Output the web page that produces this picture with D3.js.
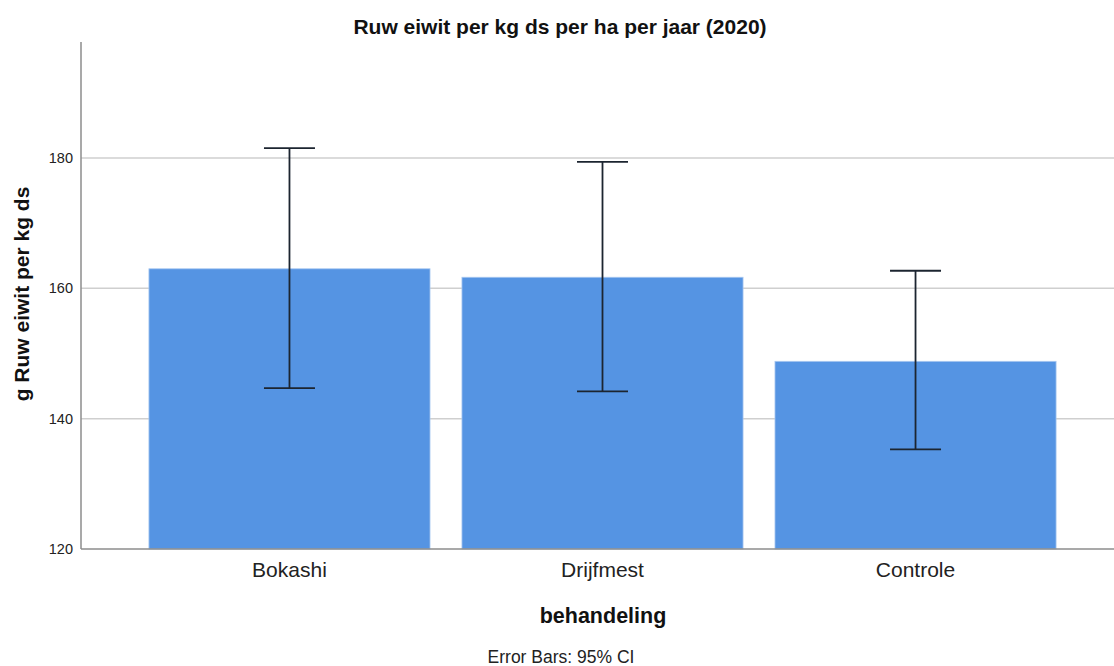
<!DOCTYPE html>
<html>
<head>
<meta charset="utf-8">
<script src="https://cdn.jsdelivr.net/npm/d3@7"></script>
<style>
  html, body { margin: 0; padding: 0; background: #fff; }
  svg { display: block; font-family: "Liberation Sans", Arial, sans-serif; }
</style>
</head>
<body>
<svg id="chart" width="1114" height="666"></svg>
<script>
// Mean crude protein (g per kg dry matter) per treatment, with 95% CI bounds
const categories = ["Bokashi", "Drijfmest", "Controle"];
const means      = [163.0, 161.7, 148.8];
const ciLower    = [144.7, 144.2, 135.3];
const ciUpper    = [181.5, 179.4, 162.7];
const yTicks     = [120, 140, 160, 180];

const svg = d3.select("#chart");

const plotLeft = 81, plotBottom = 549, plotTop = 42;

const y = d3.scaleLinear().domain([120, 197.8]).range([plotBottom, plotTop]);
const x = d3.scaleBand()
  .domain(categories)
  .range([plotLeft, 1124])
  .paddingInner(0.102)
  .paddingOuter(0.217);

// gridlines
svg.append("g")
  .selectAll("line")
  .data(yTicks.filter(t => t > 120))
  .join("line")
  .attr("x1", plotLeft).attr("x2", 1114)
  .attr("y1", d => y(d)).attr("y2", d => y(d))
  .attr("stroke", "#cfcfcf").attr("stroke-width", 1.5);

// bars
const data = categories.map((c, i) => ({ c, m: means[i], lo: ciLower[i], hi: ciUpper[i] }));
svg.append("g")
  .selectAll("rect")
  .data(data)
  .join("rect")
  .attr("x", d => x(d.c))
  .attr("width", x.bandwidth())
  .attr("y", d => y(d.m))
  .attr("height", d => y(120) - y(d.m))
  .attr("fill", "#5594e3")
  .attr("stroke", "#a9c8f0")
  .attr("stroke-width", 0.8);

// error bars
const cap = 25.5;
const eb = svg.append("g").attr("stroke", "#1c2530").attr("stroke-width", 1.8).attr("fill", "none");
data.forEach(d => {
  const cx = x(d.c) + x.bandwidth() / 2;
  eb.append("line").attr("x1", cx).attr("x2", cx).attr("y1", y(d.hi)).attr("y2", y(d.lo));
  eb.append("line").attr("x1", cx - cap).attr("x2", cx + cap).attr("y1", y(d.hi)).attr("y2", y(d.hi));
  eb.append("line").attr("x1", cx - cap).attr("x2", cx + cap).attr("y1", y(d.lo)).attr("y2", y(d.lo));
});

// axis lines
svg.append("line")
  .attr("x1", plotLeft).attr("x2", plotLeft).attr("y1", plotTop).attr("y2", plotBottom)
  .attr("stroke", "#8c8c8c").attr("stroke-width", 1.5);
svg.append("line")
  .attr("x1", plotLeft).attr("x2", 1114).attr("y1", plotBottom).attr("y2", plotBottom)
  .attr("stroke", "#8c8c8c").attr("stroke-width", 1.5);

// y tick labels
const yAxis = d3.axisLeft(y).tickValues(yTicks).tickSize(0).tickPadding(8);
const ya = svg.append("g").attr("transform", `translate(${plotLeft},0)`).call(yAxis);
ya.select(".domain").remove();
ya.selectAll("text")
  .attr("font-size", 14.5).attr("fill", "#222")
  .attr("font-family", "Liberation Sans, Arial, sans-serif");

// x category labels
const xAxis = d3.axisBottom(x).tickSize(0).tickPadding(13);
const xa = svg.append("g").attr("transform", `translate(0,${plotBottom})`).call(xAxis);
xa.select(".domain").remove();
xa.selectAll("text")
  .attr("font-size", 21).attr("fill", "#222")
  .attr("font-family", "Liberation Sans, Arial, sans-serif");

// titles
svg.append("text")
  .attr("x", 560).attr("y", 34)
  .attr("text-anchor", "middle")
  .attr("font-size", 21).attr("font-weight", "bold").attr("fill", "#111")
  .text("Ruw eiwit per kg ds per ha per jaar (2020)");

svg.append("text")
  .attr("transform", "translate(29,294) rotate(-90)")
  .attr("text-anchor", "middle")
  .attr("font-size", 21).attr("font-weight", "bold").attr("fill", "#111")
  .text("g Ruw eiwit per kg ds");

svg.append("text")
  .attr("x", 603).attr("y", 623)
  .attr("text-anchor", "middle")
  .attr("font-size", 21.5).attr("font-weight", "bold").attr("fill", "#111")
  .text("behandeling");

svg.append("text")
  .attr("x", 561).attr("y", 663)
  .attr("text-anchor", "middle")
  .attr("font-size", 17.5).attr("fill", "#222")
  .text("Error Bars: 95% CI");
</script>
</body>
</html>
